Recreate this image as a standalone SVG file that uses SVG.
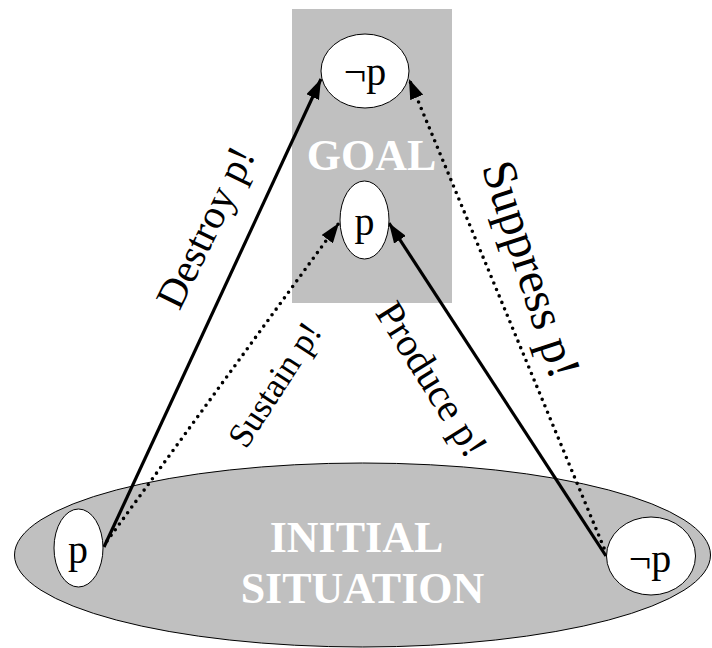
<svg xmlns="http://www.w3.org/2000/svg" width="712" height="648" viewBox="0 0 712 648">
<style>
.region{fill:#c0c0c0}
.node{fill:#ffffff;stroke:#000;stroke-width:1}
.nt{font-family:"Liberation Serif","Times New Roman",serif;font-size:40px;fill:#000;text-anchor:middle}
.big{font-family:"Liberation Serif","Times New Roman",serif;font-size:44px;font-weight:bold;fill:#fff;text-anchor:middle}
.solid{fill:none;stroke:#000;stroke-width:3.2;marker-end:url(#ah)}
.dot{fill:none;stroke:#000;stroke-width:3.6;stroke-linecap:round;stroke-dasharray:0 7;marker-end:url(#ah)}
.lbl{font-family:"Liberation Serif","Times New Roman",serif;fill:#000}
</style>
<defs>
<marker id="ah" markerUnits="userSpaceOnUse" markerWidth="22" markerHeight="14" refX="20" refY="7" orient="auto">
<path d="M0,0 L20,7 L0,14 z" fill="#000"/>
</marker>
</defs>
<g id="initial-situation">
<ellipse class="region" cx="362.5" cy="555" rx="348" ry="92" stroke="#000" stroke-width="1"/>
<text class="big" x="356.5" y="552">INITIAL</text>
<text class="big" x="362.5" y="603">SITUATION</text>
</g>
<g id="goal">
<rect class="region" x="292" y="9" width="160" height="294"/>
<text class="big" x="371.5" y="170">GOAL</text>
</g>
<g id="connectors">
<line class="solid" x1="104" y1="547" x2="321" y2="79"/>
<line class="dot" x1="107" y1="541" x2="339" y2="223"/>
<line class="solid" x1="606" y1="556" x2="389" y2="223"/>
<line class="dot" x1="604" y1="548" x2="409" y2="79"/>
<text class="lbl" font-size="41" transform="translate(179.5,311.5) rotate(-64)">Destroy p!</text>
<text class="lbl" font-size="35" transform="translate(246,450) rotate(-57)">Sustain p!</text>
<text class="lbl" font-size="40" transform="translate(374.6,312.5) rotate(58)">Produce p!</text>
<text class="lbl" font-size="48" transform="translate(481.6,167.2) rotate(72)">Suppress p!</text>
</g>
<g id="goal-not-p">
<ellipse class="node" cx="365" cy="71" rx="44" ry="37"/>
<text class="nt" x="365" y="85">¬p</text>
</g>
<g id="goal-p">
<ellipse class="node" cx="364.5" cy="220" rx="24.5" ry="39"/>
<text class="nt" x="364.5" y="235">p</text>
</g>
<g id="init-p">
<ellipse class="node" cx="78.5" cy="548" rx="24.5" ry="39"/>
<text class="nt" x="78" y="563">p</text>
</g>
<g id="init-not-p">
<ellipse class="node" cx="651" cy="556" rx="44.5" ry="39"/>
<text class="nt" x="650" y="572">¬p</text>
</g>
</svg>
